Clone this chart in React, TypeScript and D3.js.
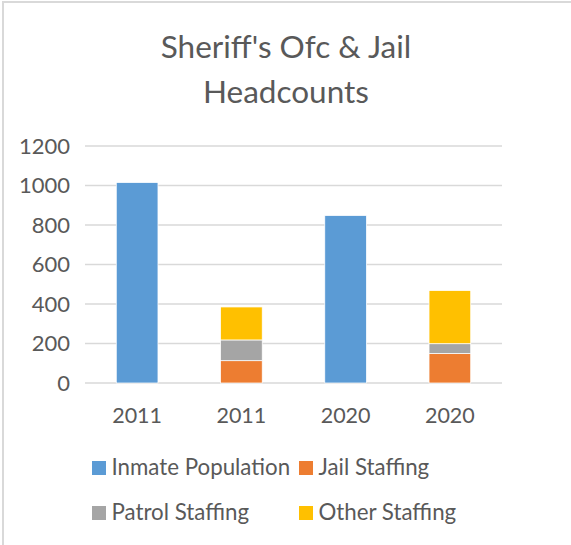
import * as d3 from 'd3';

// categories shown on the x axis (two pairs of years)
const categories = ['2011', '2011', '2020', '2020'];
const seriesNames = ['Inmate Population', 'Jail Staffing', 'Patrol Staffing', 'Other Staffing'];
const inmatePopulation = [1015, 0, 848, 0];
const jailStaffing = [0, 113, 0, 149];
const patrolStaffing = [0, 105, 0, 50];
const otherStaffing = [0, 167, 0, 269];
const yTicks = [0, 200, 400, 600, 800, 1000, 1200];
const colors = ['#5B9BD5', '#ED7D31', '#A5A5A5', '#FFC000'];

const W = 571;
const H = 545;
const FONT = 'Lato, "Open Sans", sans-serif';
const TEXT = '#595959';

export default function App() {
  const rows = categories.map((c, i) => ({
    idx: String(i),
    label: c,
    [seriesNames[0]]: inmatePopulation[i],
    [seriesNames[1]]: jailStaffing[i],
    [seriesNames[2]]: patrolStaffing[i],
    [seriesNames[3]]: otherStaffing[i],
  }));

  const stacked = d3.stack<any>().keys(seriesNames)(rows);

  const x = d3.scaleBand<string>()
    .domain(rows.map(r => r.idx))
    .range([85, 502])
    .paddingInner(0.6)
    .paddingOuter(0.3);

  const y = d3.scaleLinear().domain([0, 1200]).range([383, 146]);

  const legendPos = [
    { x: 92, y: 475 },
    { x: 299, y: 475 },
    { x: 92, y: 520 },
    { x: 299, y: 520 },
  ];

  return (
    <svg width={W} height={H} style={{ position: 'absolute', left: 0, top: 0, background: '#fff' }}
      fontFamily={FONT}>
      <rect x={0} y={0} width={W} height={H} fill="#fff" />
      {/* chart border */}
      <rect x={3} y={2} width={W + 10} height={H + 10} fill="none" stroke="#D9D9D9" strokeWidth={2} />

      {/* title */}
      <text x={286} y={58} textAnchor="middle" fontSize={31.5} fill={TEXT}>Sheriff's Ofc &amp; Jail</text>
      <text x={286} y={103} textAnchor="middle" fontSize={31.5} fill={TEXT}>Headcounts</text>

      {/* gridlines + y labels */}
      {yTicks.map(t => (
        <g key={t}>
          <line x1={85} x2={502} y1={y(t)} y2={y(t)} stroke="#D9D9D9" strokeWidth={1.5} />
          <text x={70} y={y(t) + 7.5} textAnchor="end" fontSize={22} fill={TEXT}>{t}</text>
        </g>
      ))}

      {/* bars */}
      {stacked.map((s, si) => (
        <g key={s.key} fill={colors[si]}>
          {s.map((d, i) => {
            const h = y(d[0]) - y(d[1]);
            if (h <= 0) return null;
            return (
              <rect key={i} x={x(String(i))} y={y(d[1])} width={x.bandwidth()} height={h}
                stroke="#fff" strokeWidth={0.75} />
            );
          })}
        </g>
      ))}

      {/* x labels */}
      {rows.map(r => (
        <text key={r.idx} x={(x(r.idx) ?? 0) + x.bandwidth() / 2} y={423} textAnchor="middle"
          fontSize={21.5} fill={TEXT}>{r.label}</text>
      ))}

      {/* legend */}
      {seriesNames.map((n, i) => (
        <g key={n}>
          <rect x={legendPos[i].x} y={legendPos[i].y - 14} width={14} height={14} fill={colors[i]} />
          <text x={legendPos[i].x + 19.5} y={legendPos[i].y} fontSize={22.3} fill={TEXT}>{n}</text>
        </g>
      ))}
    </svg>
  );
}
